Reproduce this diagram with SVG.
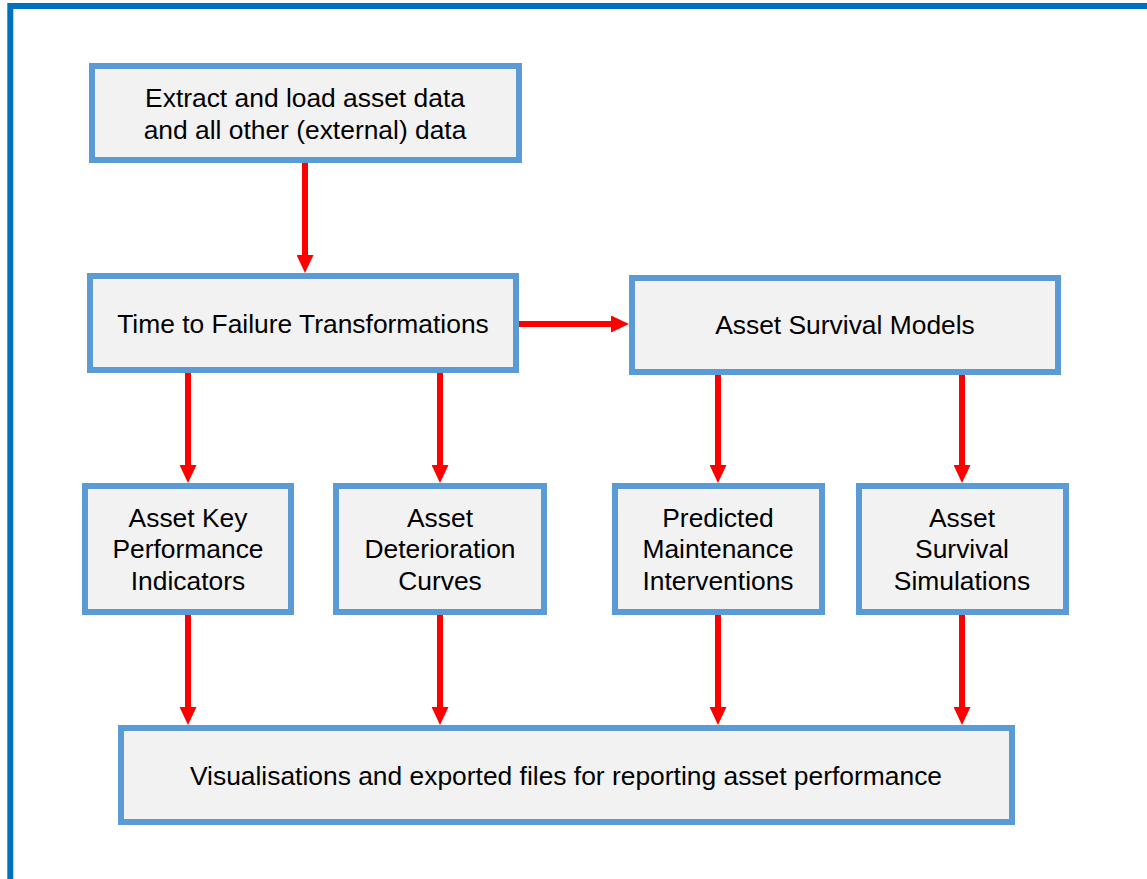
<svg xmlns="http://www.w3.org/2000/svg" width="1147" height="879" viewBox="0 0 1147 879">
  <style>
    .box { fill: #F2F2F2; stroke: #5B9BD5; stroke-width: 6; }
    .lbl { font-family: "Liberation Sans", Arial, sans-serif; font-size: 26.4px; fill: #000000; text-anchor: middle; }
    .conn { stroke: #FF0000; stroke-width: 6; fill: none; marker-end: url(#arrow); }
  </style>
  <defs>
    <marker id="arrow" viewBox="0 0 18 17" refX="1" refY="8.5" markerWidth="18" markerHeight="17" markerUnits="userSpaceOnUse" orient="auto">
      <path d="M0,0 L18,8.5 L0,17 z" fill="#FF0000"/>
    </marker>
  </defs>
  <rect x="0" y="0" width="1147" height="879" fill="#FFFFFF"/>
  <rect id="frame" x="10.3" y="6" width="1300" height="1000" fill="none" stroke="#0070C0" stroke-width="6"/>

  <g id="connectors">
    <line class="conn" x1="305" y1="163" x2="305" y2="256"/>
    <line class="conn" x1="519" y1="324" x2="612" y2="324"/>
    <line class="conn" x1="188" y1="373" x2="188" y2="466"/>
    <line class="conn" x1="440" y1="373" x2="440" y2="466"/>
    <line class="conn" x1="718" y1="375" x2="718" y2="466"/>
    <line class="conn" x1="962" y1="375" x2="962" y2="466"/>
    <line class="conn" x1="188" y1="615" x2="188" y2="708"/>
    <line class="conn" x1="440" y1="615" x2="440" y2="708"/>
    <line class="conn" x1="718" y1="615" x2="718" y2="708"/>
    <line class="conn" x1="962" y1="615" x2="962" y2="708"/>
  </g>

  <g id="node-extract">
    <rect class="box" x="92" y="66" width="427" height="94"/>
    <text class="lbl" x="305" y="107">Extract and load asset data</text>
    <text class="lbl" x="305" y="139">and all other (external) data</text>
  </g>
  <g id="node-ttf">
    <rect class="box" x="90" y="276" width="426" height="94"/>
    <text class="lbl" x="303" y="333">Time to Failure Transformations</text>
  </g>
  <g id="node-survival-models">
    <rect class="box" x="632" y="278" width="426" height="94"/>
    <text class="lbl" x="845" y="334">Asset Survival Models</text>
  </g>
  <g id="node-kpi">
    <rect class="box" x="85" y="486" width="206" height="126"/>
    <text class="lbl" x="188" y="527">Asset Key</text>
    <text class="lbl" x="188" y="558">Performance</text>
    <text class="lbl" x="188" y="590">Indicators</text>
  </g>
  <g id="node-deterioration">
    <rect class="box" x="336" y="486" width="208" height="126"/>
    <text class="lbl" x="440" y="527">Asset</text>
    <text class="lbl" x="440" y="558">Deterioration</text>
    <text class="lbl" x="440" y="590">Curves</text>
  </g>
  <g id="node-maintenance">
    <rect class="box" x="615" y="486" width="207" height="126"/>
    <text class="lbl" x="718" y="527">Predicted</text>
    <text class="lbl" x="718" y="558">Maintenance</text>
    <text class="lbl" x="718" y="590">Interventions</text>
  </g>
  <g id="node-simulations">
    <rect class="box" x="859" y="486" width="207" height="126"/>
    <text class="lbl" x="962" y="527">Asset</text>
    <text class="lbl" x="962" y="558">Survival</text>
    <text class="lbl" x="962" y="590">Simulations</text>
  </g>
  <g id="node-visualisations">
    <rect class="box" x="121" y="728" width="891" height="94"/>
    <text class="lbl" x="566" y="785">Visualisations and exported files for reporting asset performance</text>
  </g>
</svg>
